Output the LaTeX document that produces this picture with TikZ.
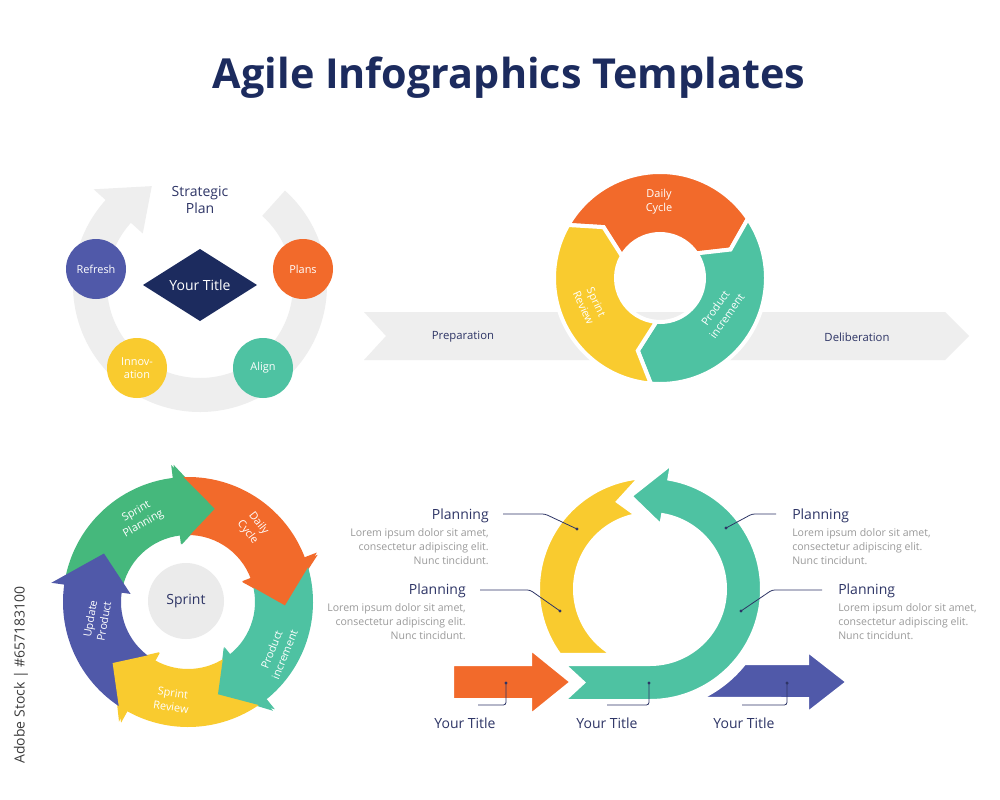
\documentclass[tikz,border=0pt]{standalone}
\usepackage{fontspec}
\setmainfont{Open Sans}
\usetikzlibrary{calc}
\definecolor{navy}{HTML}{1C2B5E}
\definecolor{corange}{HTML}{F26A2B}
\definecolor{cyellow}{HTML}{F9CB2F}
\definecolor{cteal}{HTML}{4EC2A2}
\definecolor{cgreen}{HTML}{45B87C}
\definecolor{cpurple}{HTML}{5059A9}
\definecolor{lgray}{HTML}{EEEEEE}
\definecolor{sgray}{HTML}{EBEBEB}
\definecolor{tgray}{HTML}{9A9A9A}
\definecolor{lnavy}{HTML}{2E3566}
\definecolor{wmark}{HTML}{3C3C3C}
\tikzset{
  titlefont/.style={font=\fontsize{31}{36}\selectfont\bfseries, text=navy},
  lab/.style={font=\fontsize{10}{12.5}\selectfont, text=lnavy, align=center, inner sep=0},
  wlab/.style={font=\fontsize{8.2}{10.5}\selectfont, text=white, align=center, inner sep=0},
  circ/.style={circle, minimum size=45pt, inner sep=0, text=white, align=center, font=\fontsize{8.2}{10}\selectfont},
  seg/.style={draw=white, line width=3pt, line join=miter},
  plan/.style={font=\fontsize{10.5}{12}\selectfont, text=lnavy, inner sep=0},
  lorem/.style={font=\fontsize{7.9}{10.5}\selectfont, text=tgray, inner sep=0},
  lead/.style={draw=lnavy, line width=0.6pt, rounded corners=2pt},
  dotn/.style={circle, fill=lnavy, inner sep=0, minimum size=2.6pt},
  ytitle/.style={font=\fontsize{10.5}{12}\selectfont, text=lnavy, inner sep=0}
}
\begin{document}
\begin{tikzpicture}[x=0.75pt,y=0.75pt]
\fill[white] (0,0) rectangle (1000,-800);
\useasboundingbox (0,0) rectangle (1000,-800);

% Title
\node[titlefont] (title) at (509,-78) {Agile Infographics Templates};

% ---------------- Panel 1 ----------------
\begin{scope}[shift={(200,-285)}]
\fill[lgray] (48:127) arc[start angle=48, end angle=-222, radius=127]
  -- (138:143) -- (116:110) -- (138:77) -- (138:93)
  arc[start angle=-222, end angle=48, radius=93] -- cycle;
\end{scope}
\fill[navy] (143,-285) -- (200,-249) -- (257,-285) -- (200,-321) -- cycle;
\node[lab, text=white, font=\fontsize{10.5}{12}\selectfont] (ytitle1) at (200,-285) {Your Title};
\node[lab, font=\fontsize{10.5}{13}\selectfont] (strat) at (200,-200) {Strategic\\Plan};
\node[circ, fill=cpurple] (refresh) at (96,-269) {Refresh};
\node[circ, fill=corange] (plans) at (303,-269) {Plans};
\node[circ, fill=cyellow] (innov) at (137,-368) {Innov-\\ation};
\node[circ, fill=cteal] (align) at (263,-368) {Align};

% ---------------- Panel 2 ----------------
\fill[lgray] (364,-312) -- (945,-312) -- (969,-336) -- (945,-360) -- (364,-360) -- (386,-336) -- cycle;
\node[lab, font=\fontsize{8.5}{10}\selectfont] (prep) at (463,-337) {Preparation};
\node[lab, font=\fontsize{8.5}{10}\selectfont] (delib) at (857,-337) {Deliberation};
\begin{scope}[shift={(660,-278)}]
\filldraw[seg, fill=corange] (150:106) arc[start angle=150, end angle=34, radius=106]
  -- (22:76) -- (34:44) arc[start angle=34, end angle=150, radius=44] -- (138:76) -- cycle;
\filldraw[seg, fill=cteal] (34:106) arc[start angle=34, end angle=-95, radius=106]
  -- (-107:76) -- (-95:44) arc[start angle=-95, end angle=34, radius=44] -- (22:76) -- cycle;
\filldraw[seg, fill=cyellow] (-95:106) arc[start angle=-95, end angle=-210, radius=106]
  -- (138:76) -- (150:44) arc[start angle=150, end angle=265, radius=44] -- (-107:76) -- cycle;
\end{scope}
\node[wlab] (dc2) at (659,-202) {Daily\\Cycle};
\node[wlab, rotate=-65] (sr2) at (590,-305) {Sprint\\Review};
\node[wlab, rotate=55] (pi2) at (721,-312) {Product\\increment};

% ---------------- Panel 3 ----------------
\begin{scope}[shift={(188,-602)}]
\fill[cgreen] (172:125) arc[start angle=172, end angle=96, radius=125]
  -- (96:138) -- (74:97) -- (96:58) -- (96:67) arc[start angle=96, end angle=172, radius=67] -- cycle;
\fill[corange] (96:125) arc[start angle=96, end angle=20, radius=125]
  -- (20:138) -- (-2:97) -- (20:58) -- (20:67) arc[start angle=20, end angle=96, radius=67] -- cycle;
\fill[cteal] (20:125) arc[start angle=20, end angle=-52, radius=125]
  -- (-52:138) -- (-72:97) -- (-52:58) -- (-52:67) arc[start angle=-52, end angle=20, radius=67] -- cycle;
\fill[cyellow] (-52:125) arc[start angle=-52, end angle=-120, radius=125]
  -- (-120:138) -- (-141:97) -- (-120:58) -- (-120:67) arc[start angle=-120, end angle=-52, radius=67] -- cycle;
\fill[cpurple] (-120:125) arc[start angle=-120, end angle=-188, radius=125]
  -- (-188:138) -- (-210:97) -- (-188:58) -- (-188:67) arc[start angle=-188, end angle=-120, radius=67] -- cycle;
% heads lie over the tail of the next arrow
\fill[cgreen] (97:138) -- (74:97) -- (97:58) -- cycle;
\fill[corange] (21:138) -- (-2:97) -- (21:58) -- cycle;
\fill[cteal] (-51:138) -- (-72:97) -- (-51:58) -- cycle;
\fill[cyellow] (-119:138) -- (-141:97) -- (-119:58) -- cycle;
\end{scope}
\node[circle, fill=sgray, minimum size=57pt, inner sep=0, lab, font=\fontsize{10.5}{12}\selectfont] (sprint) at (186,-601) {Sprint};
\node[wlab, rotate=30] (sp3) at (140,-518) {Sprint\\Planning};
\node[wlab, rotate=-52] (dc3) at (253,-528) {Daily\\Cycle};
\node[wlab, rotate=68] (pi3) at (278,-652) {Product\\increment};
\node[wlab, rotate=-8] (sr3) at (172,-700) {Sprint\\Review};
\node[wlab, rotate=80] (up3) at (97,-620) {Update\\Product};

% ---------------- Panel 4 ----------------
\begin{scope}[shift={(650,-589)}]
\filldraw[seg, fill=cyellow] (216.1:112) arc[start angle=216.1, end angle=95, radius=112]
  -- (110:93) -- (100:75) arc[start angle=100, end angle=241.6, radius=75] -- cycle;
\filldraw[seg, fill=cteal] (-87,-75) -- (0,-75) arc[start angle=-90, end angle=80, radius=75]
  -- (80:64) -- (102:95) -- (80:128) -- (80:112)
  arc[start angle=80, end angle=-90, radius=112] -- (-87,-112) -- (-67,-93.5) -- cycle;
\end{scope}
\filldraw[seg, fill=corange] (452,-664) -- (530,-664) -- (530,-648) -- (572,-682) -- (530,-716) -- (530,-700) -- (452,-700) -- cycle;
\filldraw[seg, fill=cpurple] ($(650,-589)+(-38.1:120)$) -- (807,-663) -- (807,-650) -- (848,-682) -- (807,-714) -- (807,-699) -- ($(650,-589)+(-66.4:120)$)
  arc[start angle=-66.4, end angle=-38.1, radius=120] -- cycle;

% dots
\node[dotn] (d1) at (577,-529) {};
\node[dotn] (d2) at (560,-611) {};
\node[dotn] (d3) at (726,-528) {};
\node[dotn] (d4) at (741,-611) {};
\node[dotn] (d5) at (506,-683) {};
\node[dotn] (d6) at (649,-683) {};
\node[dotn] (d7) at (787,-683) {};

% text blocks
\node[plan, anchor=east] (pl1) at (489,-516) {Planning};
\node[lorem, anchor=north east, align=right] (lo1) at (489,-528) {Lorem ipsum dolor sit amet,\\consectetur adipiscing elit.\\Nunc tincidunt.};
\node[plan, anchor=east] (pl2) at (466,-591) {Planning};
\node[lorem, anchor=north east, align=right] (lo2) at (466,-603) {Lorem ipsum dolor sit amet,\\consectetur adipiscing elit.\\Nunc tincidunt.};
\node[plan, anchor=west] (pl3) at (792,-516) {Planning};
\node[lorem, anchor=north west, align=left] (lo3) at (792,-528) {Lorem ipsum dolor sit amet,\\consectetur adipiscing elit.\\Nunc tincidunt.};
\node[plan, anchor=west] (pl4) at (838,-591) {Planning};
\node[lorem, anchor=north west, align=left] (lo4) at (838,-603) {Lorem ipsum dolor sit amet,\\consectetur adipiscing elit.\\Nunc tincidunt.};

% leaders
\coordinate (a1) at (503,-514); \coordinate (a2) at (480,-590);
\coordinate (a3) at (776,-514); \coordinate (a4) at (822,-590);
\draw[lead] (a1) -- (545,-514) -- (d1.center);
\draw[lead] (a2) -- (530,-590) -- (d2.center);
\draw[lead] (a3) -- (752,-514) -- (d3.center);
\draw[lead] (a4) -- (772,-590) -- (d4.center);

\node[ytitle] (yt1) at (465,-723) {Your Title};
\node[ytitle] (yt2) at (607,-723) {Your Title};
\node[ytitle] (yt3) at (744,-723) {Your Title};
\coordinate (b1) at (478,-705); \coordinate (b2) at (607,-705); \coordinate (b3) at (742,-705);
\draw[lead] (d5.center) -- (506,-705) -- (b1);
\draw[lead] (d6.center) -- (649,-705) -- (b2);
\draw[lead] (d7.center) -- (787,-705) -- (b3);

% side text
\node[rotate=90, text=wmark, font=\fontsize{10.5}{12}\selectfont, inner sep=0] (stock) at (21,-675) {Adobe Stock | \#657183100};
\end{tikzpicture}
\end{document}
